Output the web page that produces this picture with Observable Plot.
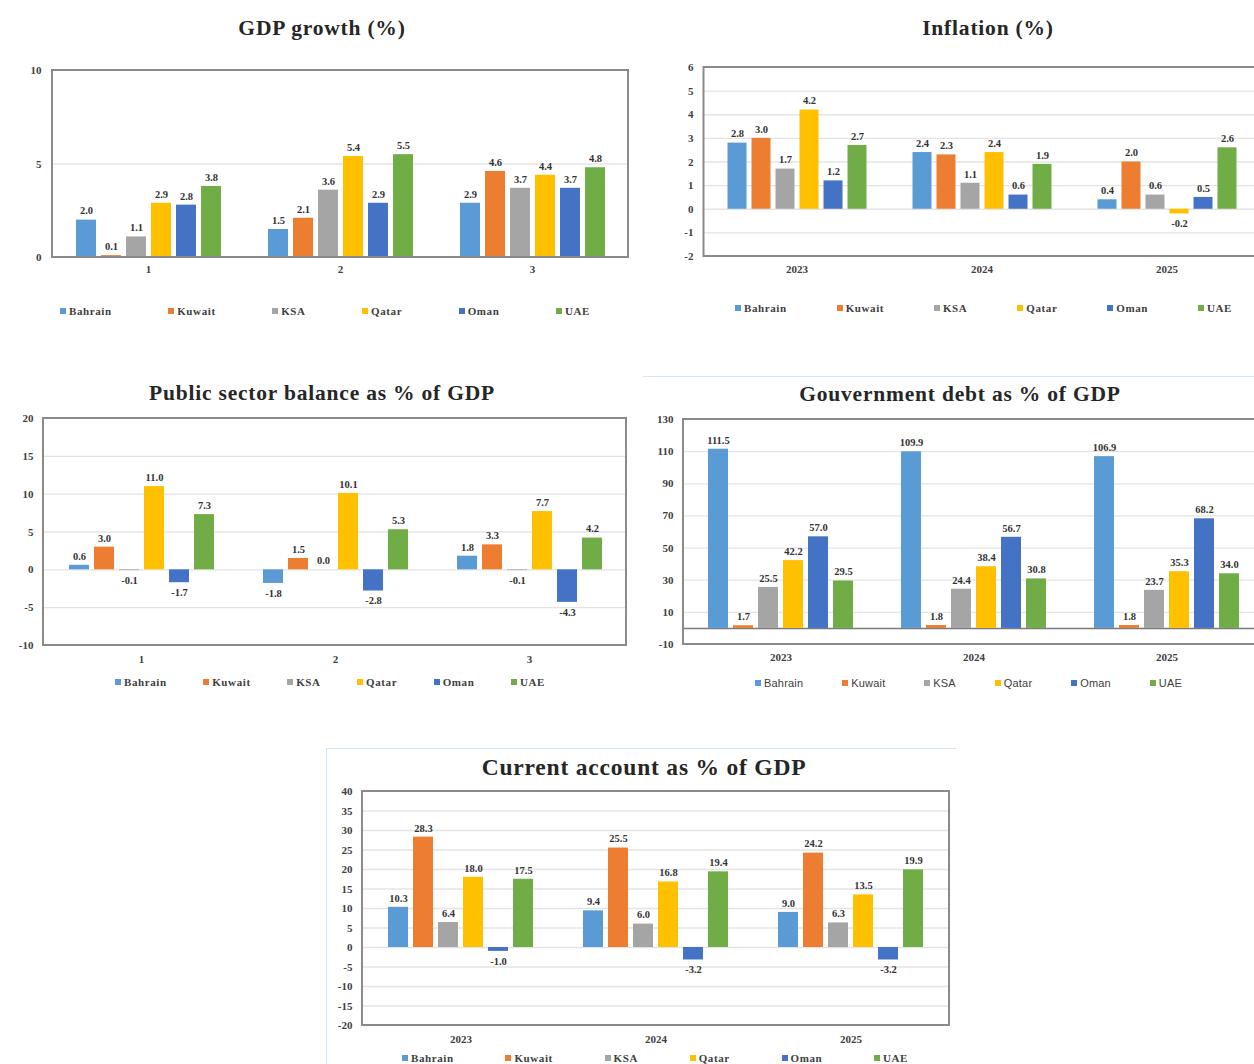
<!DOCTYPE html>
<html>
<head>
<meta charset="utf-8">
<script src="https://cdn.jsdelivr.net/npm/d3@7"></script>
<script src="https://cdn.jsdelivr.net/npm/@observablehq/plot@0.6"></script>
<style>
html,body{margin:0;padding:0;width:1254px;height:1064px;overflow:hidden;background:#fff;}
body{position:relative;font-family:"Liberation Serif","DejaVu Serif",serif;color:#262626;}
.title{position:absolute;font-weight:bold;font-size:21.5px;letter-spacing:0.8px;white-space:nowrap;transform:translate(-50%,-50%);line-height:1;}
.legend{position:absolute;display:flex;justify-content:space-between;align-items:center;font-size:11px;font-weight:bold;letter-spacing:0.6px;color:#404040;transform:translateY(-50%);}
.legend .item{display:flex;align-items:center;white-space:nowrap;}
.legend .sw{display:inline-block;width:6px;height:6px;margin-right:3px;}
.sep{position:absolute;background:#d4e5f4;}
svg{position:absolute;}
</style>
</head>
<body>
<script>
// ---------- data ----------
const countries = ["Bahrain", "Kuwait", "KSA", "Qatar", "Oman", "UAE"];
const countryColors = ["#5B9BD5", "#ED7D31", "#A5A5A5", "#FFC000", "#4472C4", "#70AD47"];
const periods = ["1", "2", "3"];
const years = ["2023", "2024", "2025"];

const gdpTitle = "GDP growth (%)";
const gdpGrowth = [
  [2.0, 0.1, 1.1, 2.9, 2.8, 3.8],
  [1.5, 2.1, 3.6, 5.4, 2.9, 5.5],
  [2.9, 4.6, 3.7, 4.4, 3.7, 4.8]
];
const gdpTicks = [0, 5, 10];
const gdpGrid = [5];

const inflationTitle = "Inflation (%)";
const inflation = [
  [2.8, 3.0, 1.7, 4.2, 1.2, 2.7],
  [2.4, 2.3, 1.1, 2.4, 0.6, 1.9],
  [0.4, 2.0, 0.6, -0.2, 0.5, 2.6]
];
const inflationTicks = [-2, -1, 0, 1, 2, 3, 4, 5, 6];
const inflationGrid = [-1, 0, 1, 2, 3, 4, 5];

const balanceTitle = "Public sector balance as % of GDP";
const publicBalance = [
  [0.6, 3.0, -0.1, 11.0, -1.7, 7.3],
  [-1.8, 1.5, 0.0, 10.1, -2.8, 5.3],
  [1.8, 3.3, -0.1, 7.7, -4.3, 4.2]
];
const balanceTicks = [-10, -5, 0, 5, 10, 15, 20];
const balanceGrid = [-5, 0, 5, 10, 15];

const debtTitle = "Gouvernment debt as % of GDP";
const govDebt = [
  [111.5, 1.7, 25.5, 42.2, 57.0, 29.5],
  [109.9, 1.8, 24.4, 38.4, 56.7, 30.8],
  [106.9, 1.8, 23.7, 35.3, 68.2, 34.0]
];
const debtTicks = [-10, 10, 30, 50, 70, 90, 110, 130];
const debtGrid = [10, 30, 50, 70, 90, 110];

const caTitle = "Current account as % of GDP";
const currentAccount = [
  [10.3, 28.3, 6.4, 18.0, -1.0, 17.5],
  [9.4, 25.5, 6.0, 16.8, -3.2, 19.4],
  [9.0, 24.2, 6.3, 13.5, -3.2, 19.9]
];
const caTicks = [-20, -15, -10, -5, 0, 5, 10, 15, 20, 25, 30, 35, 40];
const caGrid = [-15, -10, -5, 0, 5, 10, 15, 20, 25, 30, 35];

// ---------- helpers ----------
const root = document.body;

function addTitle(text, cx, cy, size) {
  const d = document.createElement("div");
  d.className = "title";
  d.textContent = text;
  d.style.left = cx + "px";
  d.style.top = cy + "px";
  if (size) d.style.fontSize = size + "px";
  root.appendChild(d);
}

function addLegend(left, right, cy, sans) {
  const d = document.createElement("div");
  d.className = "legend";
  d.style.left = left + "px";
  d.style.width = (right - left) + "px";
  d.style.top = cy + "px";
  if (sans) {
    d.style.fontFamily = '"Liberation Sans", Arial, sans-serif';
    d.style.fontWeight = "normal";
    d.style.letterSpacing = "0.2px";
  }
  countries.forEach((c, i) => {
    const it = document.createElement("span");
    it.className = "item";
    const sw = document.createElement("span");
    sw.className = "sw";
    sw.style.background = countryColors[i];
    it.appendChild(sw);
    it.appendChild(document.createTextNode(c));
    d.appendChild(it);
  });
  root.appendChild(d);
}

function addPanel(cfg) {
  const rows = [];
  cfg.groups.forEach((g, gi) => countries.forEach((c, ci) =>
    rows.push({group: g, country: c, value: cfg.values[gi][ci]})));
  const W = cfg.svg.r - cfg.svg.l, H = cfg.svg.b - cfg.svg.t;
  const ml = cfg.frame.l - cfg.svg.l, mt = cfg.frame.t - cfg.svg.t;
  const mr = cfg.svg.r - cfg.frame.r, mb = cfg.svg.b - cfg.frame.b;
  const font = '"Liberation Serif", serif';
  const chart = Plot.plot({
    width: W, height: H,
    marginLeft: ml, marginTop: mt, marginRight: mr, marginBottom: mb,
    style: {fontFamily: font, fontSize: "11px", fontWeight: "bold", color: "#404040", background: "none", overflow: "visible"},
    fx: {domain: cfg.groups, padding: 0, label: null, tickSize: 0, tickPadding: cfg.fxPad, axis: "bottom"},
    x: {domain: countries, paddingInner: 0.22, paddingOuter: 0.88, axis: null},
    y: {domain: [cfg.ticks[0], cfg.ticks[cfg.ticks.length - 1]], ticks: cfg.ticks, tickSize: 0, tickPadding: 11,
        label: null, tickFormat: d => String(d)},
    color: {domain: countries, range: countryColors},
    marks: [
      Plot.ruleY(cfg.grid, {stroke: "#e4e4e4", strokeWidth: 1.3}),
      cfg.zeroDark ? Plot.ruleY([0], {stroke: "#7a7a7a", strokeWidth: 1.6}) : null,
      Plot.barY(rows, {fx: "group", x: "country", y: "value", fill: "country"}),
      Plot.text(rows.filter(d => d.value >= 0), {fx: "group", x: "country", y: "value",
        text: d => d.value.toFixed(1), dy: -9, fontSize: 10.5, fontWeight: "bold", fill: "#333", fontFamily: font}),
      Plot.text(rows.filter(d => d.value < 0), {fx: "group", x: "country", y: "value",
        text: d => d.value.toFixed(1), dy: 10, fontSize: 10.5, fontWeight: "bold", fill: "#333", fontFamily: font})
    ]
  });
  chart.style.left = cfg.svg.l + "px";
  chart.style.top = cfg.svg.t + "px";
  d3.select(chart).append("rect")
    .attr("x", ml).attr("y", mt)
    .attr("width", W - ml - mr).attr("height", H - mt - mb)
    .attr("fill", "none").attr("stroke", "#8a8a8a").attr("stroke-width", 2);
  root.appendChild(chart);
}

function sep(l, t, w, h) {
  const d = document.createElement("div");
  d.className = "sep";
  d.style.left = l + "px"; d.style.top = t + "px";
  d.style.width = w + "px"; d.style.height = h + "px";
  root.appendChild(d);
}
sep(643, 376, 611, 1);
sep(326, 748, 630, 1);
sep(326, 748, 1, 316);

// ---------- panels ----------
addTitle(gdpTitle, 322, 29);
addPanel({groups: periods, values: gdpGrowth, ticks: gdpTicks, grid: gdpGrid,
  frame: {l: 52, t: 70, r: 628, b: 257}, svg: {l: 0, t: 50, r: 640, b: 290}, fxPad: 8});
addLegend(60, 590, 311);

addTitle(inflationTitle, 988, 29);
addPanel({groups: years, values: inflation, ticks: inflationTicks, grid: inflationGrid,
  frame: {l: 703.5, t: 67, r: 1258.5, b: 256}, svg: {l: 650, t: 50, r: 1275, b: 290}, fxPad: 9});
addLegend(735, 1232, 308);

addTitle(balanceTitle, 322, 394);
addPanel({groups: periods, values: publicBalance, ticks: balanceTicks, grid: balanceGrid,
  frame: {l: 43, t: 418, r: 626, b: 645}, svg: {l: 0, t: 405, r: 640, b: 675}, fxPad: 10});
addLegend(115, 545, 682);

addTitle(debtTitle, 960, 395);
addPanel({groups: years, values: govDebt, ticks: debtTicks, grid: debtGrid, zeroDark: true,
  frame: {l: 683, t: 419, r: 1263.5, b: 644}, svg: {l: 640, t: 405, r: 1280, b: 675}, fxPad: 9});
addLegend(755, 1182, 683, true);

addTitle(caTitle, 644, 768, 23.5);
addPanel({groups: years, values: currentAccount, ticks: caTicks, grid: caGrid,
  frame: {l: 362, t: 791, r: 949, b: 1025}, svg: {l: 320, t: 780, r: 960, b: 1055}, fxPad: 10});
addLegend(402, 908, 1058);
</script>
</body>
</html>
